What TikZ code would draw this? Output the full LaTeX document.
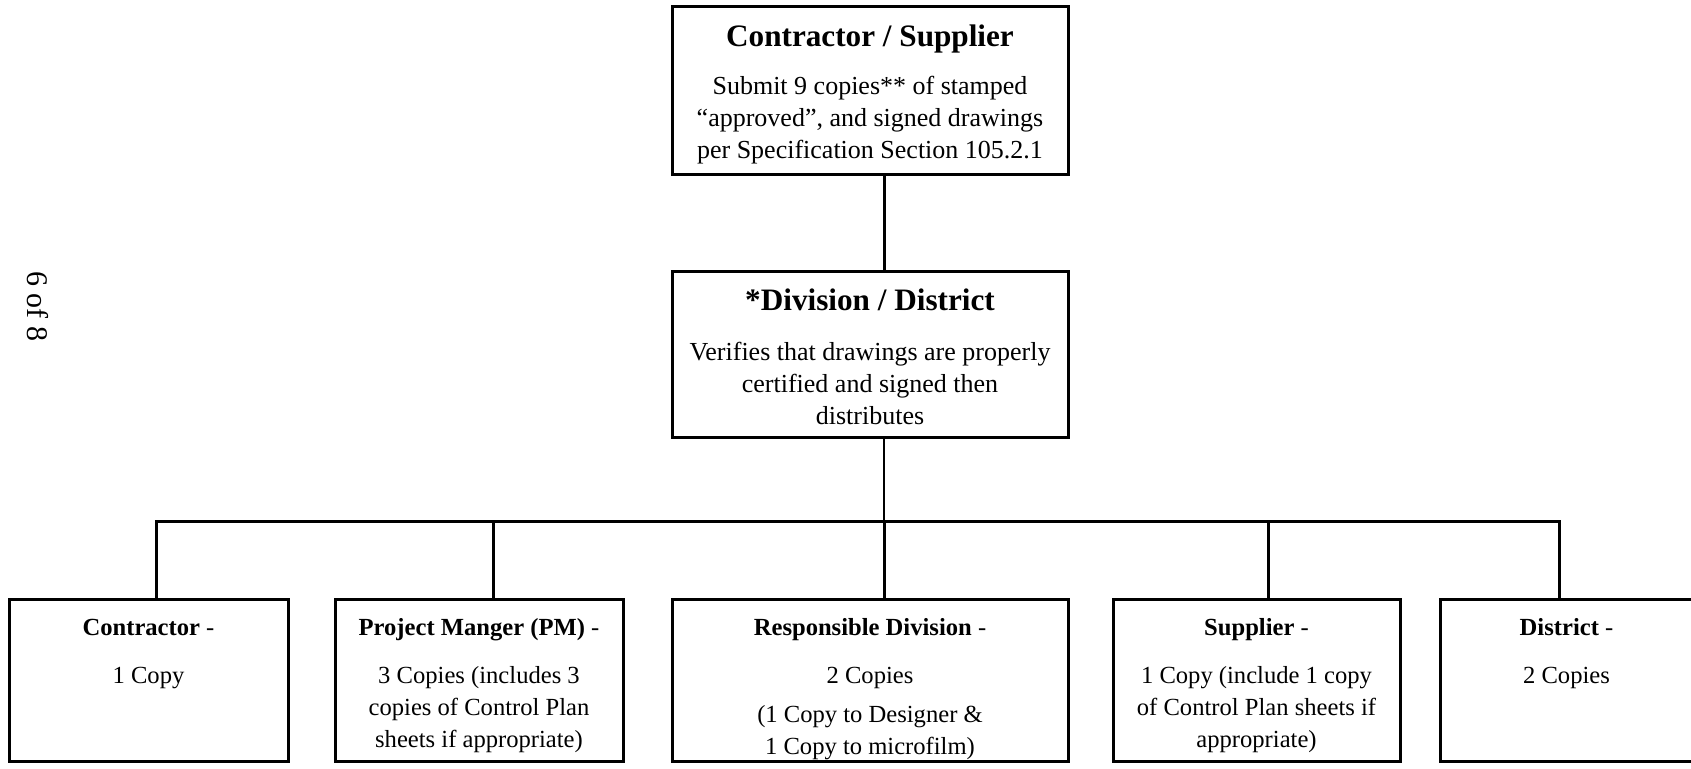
\documentclass[tikz,border=0pt]{standalone}
\usepackage{fontspec}
\setmainfont{Liberation Serif}
\newcommand{\headfont}{\fontsize{15.6}{16}\selectfont\bfseries}
\newcommand{\topfont}{\fontsize{13}{16}\selectfont}
\newcommand{\lowfont}{\fontsize{12.3}{16}\selectfont}

\begin{document}
\begin{tikzpicture}[x=0.5pt,y=-0.5pt,
	box/.style={draw,line width=1.5pt,inner sep=0pt},
	link/.style={line width=1.5pt},
	thinlink/.style={line width=1.1pt}]
	\useasboundingbox (0,0) rectangle (1691,768);
	\node[rotate=-90,font=\fontsize{15}{18}\selectfont] (page) at (38,306) {6 of 8};
	\node[box] (contsup) at (870,90) {\parbox[c][84pt][t]{198pt}{\centering\topfont\rule{0pt}{20pt}{\headfont Contractor / Supplier}\\[8pt]Submit 9 copies** of stamped\\“approved”, and signed drawings\\per Specification Section 105.2.1}};
	\node[box] (divdist) at (870,354) {\parbox[c][83pt][t]{198pt}{\centering\topfont\rule{0pt}{19.5pt}{\headfont *Division / District}\\[9pt]Verifies that drawings are properly\\certified and signed then\\distributes}};
	\node[box] (contractor) at (148.5,680) {\parbox[c][81pt][t]{139.5pt}{\centering\lowfont\rule{0pt}{18pt}\textbf{Contractor} -\\[8pt]1 Copy}};
	\node[box] (pm) at (479,680) {\parbox[c][81pt][t]{144pt}{\centering\lowfont\rule{0pt}{18pt}\textbf{Project Manger (PM)} -\\[8pt]3 Copies (includes 3\\copies of Control Plan\\sheets if appropriate)}};
	\node[box] (respdiv) at (870,680) {\parbox[c][81pt][t]{198pt}{\centering\lowfont\rule{0pt}{18pt}\textbf{Responsible Division} -\\[8pt]2 Copies\\[3.5pt](1 Copy to Designer \&\\1 Copy to microfilm)}};
	\node[box] (supplier) at (1256.5,680) {\parbox[c][81pt][t]{143.5pt}{\centering\lowfont\rule{0pt}{18pt}\textbf{Supplier} -\\[8pt]1 Copy (include 1 copy\\of Control Plan sheets if\\appropriate)}};
	\node[box] (district) at (1566.5,680) {\parbox[c][81pt][t]{126.5pt}{\centering\lowfont\rule{0pt}{18pt}\textbf{District} -\\[8pt]2 Copies}};
	\coordinate (hub) at (884,521);
	\draw[link] (contsup.south -| hub) -- (divdist.north -| hub);
	\draw[thinlink] (divdist.south -| hub) -- (hub);
	\foreach \xx/\nm in {156/contractor,493/pm,884/respdiv,1268/supplier,1559/district}
		\coordinate (drop\nm) at (\xx,521);
	\draw[link] (contractor.north -| dropcontractor) -- (dropcontractor) -- (dropdistrict) -- (district.north -| dropdistrict);
	\foreach \nm in {pm,respdiv,supplier}
		\draw[link] (drop\nm) -- (\nm.north -| drop\nm);
\end{tikzpicture}
\end{document}
